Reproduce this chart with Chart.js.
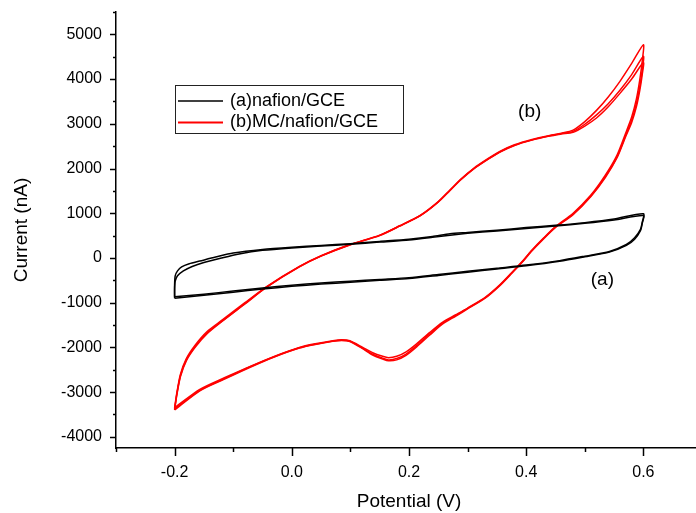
<!DOCTYPE html>
<html>
<head>
<meta charset="utf-8">
<script src="https://cdn.jsdelivr.net/npm/chart.js@4.4.0/dist/chart.umd.min.js"></script>
<style>
  html, body { margin: 0; padding: 0; background: #fff; overflow: hidden; }
</style>
</head>
<body>
<canvas id="cv" width="710" height="513"></canvas>
<script>
// axis ticks
const xTickValues = [-0.3, -0.2, -0.1, 0.0, 0.1, 0.2, 0.3, 0.4, 0.5, 0.6, 0.7];
const xTickLabels = ["", "-0.2", "", "0.0", "", "0.2", "", "0.4", "", "0.6", ""];
const yTickValues = [-4000, -3500, -3000, -2500, -2000, -1500, -1000, -500, 0, 500, 1000, 1500, 2000, 2500, 3000, 3500, 4000, 4500, 5000, 5500];
const yTickLabels = ["-4000", "", "-3000", "", "-2000", "", "-1000", "", "0", "", "1000", "", "2000", "", "3000", "", "4000", "", "5000", ""];

// (a) nafion/GCE, two overlapping cycles (potential V, current nA)
const blackCycle1V = [-0.2, -0.2, -0.199, -0.195, -0.188, -0.175, -0.157, -0.13, -0.1, -0.05, 0.0, 0.05, 0.1, 0.15, 0.2, 0.24, 0.27, 0.3, 0.35, 0.4, 0.45, 0.5, 0.55, 0.6,
  0.598, 0.595, 0.585, 0.571, 0.542, 0.5, 0.457, 0.4, 0.35, 0.3, 0.25, 0.2, 0.15, 0.1, 0.05, 0.0, -0.05, -0.1, -0.15, -0.2];
const blackCycle1I = [-870, -600, -400, -290, -200, -130, -70, 20, 110, 190, 240, 280, 320, 370, 420, 480, 540, 570, 620, 680, 730, 790, 870, 990,
  800, 640, 450, 300, 145, 40, -60, -160, -230, -300, -370, -440, -480, -520, -560, -610, -670, -740, -810, -870];
const blackCycle2V = [-0.2, -0.2, -0.199, -0.195, -0.185, -0.17, -0.15, -0.12, -0.09, -0.05, 0.0, 0.05, 0.1, 0.15, 0.2, 0.24, 0.27, 0.3, 0.35, 0.4, 0.45, 0.5, 0.55, 0.6,
  0.598, 0.595, 0.585, 0.571, 0.542, 0.5, 0.457, 0.4, 0.35, 0.3, 0.25, 0.2, 0.15, 0.1, 0.05, 0.0, -0.05, -0.1, -0.15, -0.2];
const blackCycle2I = [-900, -700, -520, -400, -290, -190, -100, 0, 90, 170, 225, 265, 305, 355, 400, 460, 510, 550, 605, 660, 715, 775, 850, 950,
  770, 610, 420, 280, 130, 25, -75, -175, -245, -320, -390, -460, -500, -545, -585, -635, -695, -765, -835, -900];

// (b) MC/nafion/GCE, three overlapping cycles
const redCycle1V = [-0.2, -0.196, -0.19, -0.18, -0.165, -0.145, -0.118, -0.08, -0.043, 0.013, 0.05, 0.099, 0.15, 0.184, 0.22, 0.25, 0.27, 0.29, 0.31, 0.33, 0.355, 0.38, 0.41, 0.44, 0.46, 0.48, 0.5, 0.52, 0.54, 0.56, 0.58, 0.6,
  0.598, 0.594, 0.588, 0.58, 0.57, 0.555, 0.535, 0.51, 0.48, 0.45, 0.43, 0.41, 0.395, 0.375, 0.355, 0.33, 0.3, 0.28, 0.257, 0.235, 0.213, 0.195, 0.179, 0.165, 0.155, 0.138, 0.121, 0.099, 0.085, 0.07, 0.04, 0.013, -0.03, -0.072, -0.115, -0.157, -0.2];
const redCycle1I = [-3350, -3000, -2600, -2250, -1950, -1650, -1380, -1000, -640, -190, 50, 300, 510, 720, 960, 1260, 1520, 1780, 2000, 2180, 2380, 2530, 2650, 2740, 2790, 2860, 3050, 3300, 3600, 3950, 4350, 4770,
  4400, 4000, 3550, 3150, 2800, 2300, 1850, 1400, 1000, 700, 450, 180, -50, -330, -600, -880, -1120, -1270, -1440, -1670, -1920, -2100, -2200, -2230, -2200, -2120, -2000, -1850, -1830, -1850, -1920, -2000, -2200, -2430, -2680, -2940, -3350];
const redCycle2V = [-0.2, -0.196, -0.19, -0.18, -0.165, -0.145, -0.118, -0.08, -0.043, 0.013, 0.05, 0.099, 0.15, 0.184, 0.22, 0.25, 0.27, 0.29, 0.31, 0.33, 0.355, 0.38, 0.41, 0.44, 0.46, 0.48, 0.5, 0.52, 0.54, 0.56, 0.58, 0.6,
  0.598, 0.594, 0.588, 0.58, 0.57, 0.555, 0.535, 0.51, 0.48, 0.45, 0.43, 0.41, 0.395, 0.375, 0.355, 0.33, 0.3, 0.28, 0.257, 0.235, 0.213, 0.195, 0.179, 0.165, 0.155, 0.138, 0.121, 0.099, 0.085, 0.07, 0.04, 0.013, -0.03, -0.072, -0.115, -0.157, -0.2];
const redCycle2I = [-3380, -3030, -2630, -2280, -1980, -1680, -1400, -1020, -650, -195, 45, 295, 505, 715, 955, 1255, 1515, 1770, 1990, 2170, 2370, 2520, 2640, 2730, 2780, 2830, 2990, 3200, 3450, 3750, 4100, 4510,
  4200, 3850, 3450, 3080, 2750, 2260, 1820, 1380, 980, 690, 440, 170, -60, -340, -610, -890, -1130, -1285, -1460, -1700, -1960, -2150, -2250, -2280, -2240, -2150, -2020, -1860, -1840, -1860, -1930, -2010, -2210, -2440, -2700, -2960, -3380];
const redCycle3V = [-0.2, -0.196, -0.19, -0.18, -0.165, -0.145, -0.118, -0.08, -0.043, 0.013, 0.05, 0.099, 0.15, 0.184, 0.22, 0.25, 0.27, 0.29, 0.31, 0.33, 0.355, 0.38, 0.41, 0.44, 0.46, 0.48, 0.5, 0.52, 0.54, 0.56, 0.58, 0.6,
  0.598, 0.594, 0.588, 0.58, 0.57, 0.555, 0.535, 0.51, 0.48, 0.45, 0.43, 0.41, 0.395, 0.375, 0.355, 0.33, 0.3, 0.28, 0.257, 0.235, 0.213, 0.195, 0.179, 0.165, 0.155, 0.138, 0.121, 0.099, 0.085, 0.07, 0.04, 0.013, -0.03, -0.072, -0.115, -0.157, -0.2];
const redCycle3I = [-3400, -3050, -2650, -2300, -2000, -1700, -1410, -1030, -655, -200, 40, 290, 500, 710, 950, 1250, 1510, 1765, 1985, 2165, 2365, 2515, 2635, 2725, 2770, 2810, 2950, 3130, 3380, 3680, 4000, 4370,
  4100, 3760, 3380, 3030, 2720, 2240, 1800, 1370, 970, 680, 430, 160, -70, -350, -620, -900, -1140, -1300, -1480, -1730, -1990, -2180, -2280, -2300, -2260, -2170, -2030, -1870, -1845, -1865, -1935, -2015, -2215, -2450, -2710, -2970, -3400];

// annotations on the plot
const noteLabels = ["(a)", "(b)"];
const noteV = [0.53, 0.406];
const noteI = [-480, 3270];

function pts(vs, is) {
    return vs.map((v, k) => ({ x: v, y: is[k] }));
}

const FONT = "'Liberation Sans', Arial, sans-serif";

function curve(label, vs, is, color) {
    return {
        label: label,
        data: pts(vs, is),
        borderColor: color,
        backgroundColor: color,
        borderWidth: 1.5,
        pointRadius: 0,
        showLine: true,
        tension: 0.25,
        fill: false,
    };
}

// minor/major tick marks (Origin style, outward)
const tickMarks = {
    id: "tickMarks",
    afterDraw(chart) {
        const ctx = chart.ctx;
        const xs = chart.scales.x;
        const ys = chart.scales.y;
        ctx.save();
        ctx.strokeStyle = "#000";
        ctx.lineWidth = 1.5;
        xTickValues.forEach((v, k) => {
            const px = Math.round(xs.getPixelForValue(v)) + 0.5;
            const len = xTickLabels[k] ? 8 : 4;
            ctx.beginPath();
            ctx.moveTo(px, xs.top);
            ctx.lineTo(px, xs.top + len);
            ctx.stroke();
        });
        yTickValues.forEach((v, k) => {
            const py = Math.round(ys.getPixelForValue(v)) + 0.5;
            const len = yTickLabels[k] ? 6 : 3;
            ctx.beginPath();
            ctx.moveTo(ys.right, py);
            ctx.lineTo(ys.right - len, py);
            ctx.stroke();
        });
        ctx.restore();
    },
};

// legend box and (a)/(b) notes
const boxLegend = {
    id: "boxLegend",
    afterDraw(chart) {
        const ctx = chart.ctx;
        const area = chart.chartArea;
        const x0 = area.left + 59, y0 = area.top + 73;
        const w = 228, h = 48;
        ctx.save();
        ctx.fillStyle = "#fff";
        ctx.fillRect(x0, y0, w, h);
        ctx.strokeStyle = "#222";
        ctx.lineWidth = 1;
        ctx.strokeRect(x0 + 0.5, y0 + 0.5, w, h);
        ctx.font = "18px " + FONT;
        ctx.textBaseline = "middle";
        ctx.fillStyle = "#000";
        const shown = chart.data.datasets.filter(d => d.label);
        shown.forEach((d, k) => {
            const yy = y0 + 16 + k * 21.5;
            ctx.strokeStyle = d.borderColor;
            ctx.lineWidth = k === 0 ? 1.5 : 2;
            ctx.beginPath();
            ctx.moveTo(x0 + 3, yy);
            ctx.lineTo(x0 + 48, yy);
            ctx.stroke();
            ctx.fillText(d.label, x0 + 55, yy);
        });

        const xs = chart.scales.x, ys = chart.scales.y;
        ctx.font = "19px " + FONT;
        ctx.textAlign = "center";
        noteLabels.forEach((t, k) => {
            ctx.fillText(t, xs.getPixelForValue(noteV[k]), ys.getPixelForValue(noteI[k]));
        });
        ctx.restore();
    },
};

const datasets = [
    curve("(a)nafion/GCE", blackCycle1V, blackCycle1I, "#000"),
    curve("", blackCycle2V, blackCycle2I, "#000"),
    curve("(b)MC/nafion/GCE", redCycle1V, redCycle1I, "#ff0000"),
    curve("", redCycle2V, redCycle2I, "#ff0000"),
    curve("", redCycle3V, redCycle3I, "#ff0000"),
];

new Chart(document.getElementById("cv"), {
    type: "scatter",
    data: { datasets: datasets },
    plugins: [tickMarks, boxLegend],
    options: {
        responsive: false,
        animation: false,
        layout: { padding: { top: 12, right: 8, left: 0, bottom: 0 } },
        plugins: { legend: { display: false }, tooltip: { enabled: false } },
        scales: {
            x: {
                type: "linear",
                min: -0.3,
                max: 0.7,
                afterFit(s) { s.height = 65; s.paddingLeft = 0; s.paddingRight = 0; },
                afterBuildTicks(s) { s.ticks = xTickValues.map(v => ({ value: v })); },
                ticks: {
                    autoSkip: false,
                    maxRotation: 0,
                    padding: 7,
                    color: "#000",
                    font: { family: FONT, size: 16 },
                    callback: (v, i) => xTickLabels[i],
                },
                grid: { display: true, drawOnChartArea: false, drawTicks: true, tickLength: 8, tickColor: "rgba(0,0,0,0)" },
                border: { display: true, color: "#000", width: 1.5 },
                title: { display: true, text: "Potential (V)", color: "#000", font: { family: FONT, size: 19 }, padding: { top: 0, bottom: 0 } },
            },
            y: {
                type: "linear",
                min: -4250,
                max: 5500,
                afterFit(s) { s.width = 116; s.paddingTop = 0; s.paddingBottom = 0; },
                afterBuildTicks(s) { s.ticks = yTickValues.map(v => ({ value: v })); },
                ticks: {
                    autoSkip: false,
                    padding: 8,
                    color: "#000",
                    font: { family: FONT, size: 16 },
                    callback: (v, i) => yTickLabels[i],
                },
                grid: { display: true, drawOnChartArea: false, drawTicks: true, tickLength: 6, tickColor: "rgba(0,0,0,0)" },
                border: { display: true, color: "#000", width: 1.5 },
                title: { display: true, text: "Current (nA)", color: "#000", font: { family: FONT, size: 19 }, padding: { top: 10, bottom: 0 } },
            },
        },
    },
});
</script>
</body>
</html>
